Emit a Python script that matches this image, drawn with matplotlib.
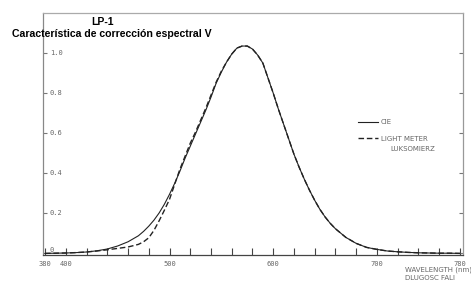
import matplotlib
matplotlib.use("Agg")
import matplotlib.pyplot as plt
import numpy as np

wavelengths = [380, 390, 400, 410, 420, 430, 440, 450, 460, 470, 475, 480, 485,
               490, 495, 500, 505, 510, 515, 520, 525, 530, 535, 540, 545, 550,
               555, 560, 565, 570, 575, 580, 585, 590, 595, 600, 605, 610, 615,
               620, 625, 630, 635, 640, 645, 650, 655, 660, 670, 680, 690, 700,
               710, 720, 730, 740, 750, 760, 770, 780]
cie = [0.0, 0.001, 0.002, 0.004, 0.007, 0.013, 0.022, 0.037, 0.058, 0.088,
       0.11, 0.136, 0.166, 0.202, 0.245, 0.295, 0.35, 0.41, 0.475, 0.535,
       0.595, 0.655, 0.715, 0.78, 0.85, 0.905, 0.955, 0.995, 1.025, 1.035,
       1.035, 1.02, 0.99, 0.95, 0.875, 0.80, 0.72, 0.645, 0.57, 0.495, 0.43,
       0.37, 0.315, 0.265, 0.22, 0.182, 0.15, 0.123, 0.08, 0.05, 0.03, 0.02,
       0.012, 0.008, 0.005, 0.003, 0.002, 0.001, 0.001, 0.0]
light_meter = [0.0, 0.001, 0.002, 0.004, 0.007, 0.012, 0.018, 0.025, 0.032,
               0.045, 0.058, 0.078, 0.115, 0.163, 0.215, 0.27, 0.345, 0.42,
               0.485, 0.55, 0.605, 0.665, 0.725, 0.79, 0.855, 0.91, 0.955,
               0.995, 1.025, 1.035, 1.035, 1.02, 0.99, 0.95, 0.875, 0.80, 0.72,
               0.645, 0.57, 0.495, 0.43, 0.37, 0.315, 0.265, 0.22, 0.182, 0.15,
               0.123, 0.08, 0.05, 0.03, 0.02, 0.012, 0.008, 0.005, 0.003,
               0.002, 0.001, 0.001, 0.0]

x_ticks = list(range(380, 781, 20))
x_labels_shown = {380: "380", 400: "400", 500: "500", 600: "600", 700: "700", 780: "780"}
y_ticks = [0, 0.2, 0.4, 0.6, 0.8, 1.0]
y_labels = ["0", "0.2", "0.4", "0.6", "0.8", "1.0"]

W, H = 471, 283
fig = plt.figure(figsize=(W / 100, H / 100), dpi=100)
ax = fig.add_axes([43 / W, (H - 255) / H, (463 - 43) / W, (255 - 13) / H])

ax.plot(wavelengths, cie, color="#222222", lw=0.8, label="CIE")
ax.plot(wavelengths, light_meter, color="#222222", lw=1.0, ls=(0, (4, 2)),
        label="LIGHT METER")

ax.set_xlim(378, 783)
ax.set_ylim(-0.008, 1.2)

mono = "DejaVu Sans Mono"
ax.set_xticks(x_ticks)
ax.set_xticklabels([x_labels_shown.get(t, "") for t in x_ticks],
                   fontsize=5, color="#666666", family=mono)
ax.set_yticks(y_ticks)
ax.set_yticklabels(y_labels, fontsize=5, color="#666666", family=mono,
                   ha="left")
ax.tick_params(axis="x", direction="in", length=5, width=0.8, color="#444444",
               pad=4)
ax.tick_params(axis="y", direction="in", length=3, width=0.8, color="#777777",
               pad=-5, right=True)
for val, lab in zip(y_ticks, ax.get_yticklabels()):
    lab.set_verticalalignment("bottom" if val == 0 else "center")

for side, c in [("left", "#888888"), ("right", "#999999"), ("top", "#aaaaaa"),
                ("bottom", "#444444")]:
    ax.spines[side].set_color(c)
    ax.spines[side].set_linewidth(0.9)

leg = ax.legend(loc="upper left", bbox_to_anchor=(0.75, 0.56), frameon=False,
                fontsize=5, handlelength=2.9, handletextpad=0.4,
                labelspacing=1.5, borderpad=0, borderaxespad=0)
for t in leg.get_texts():
    t.set_color("#666666")
ax.text(0.826, 0.438, "LUKSOMIERZ", transform=ax.transAxes, fontsize=5,
        color="#666666", ha="left", va="center")

fig.text(405 / W, 1 - 270 / H, "WAVELENGTH (nm)", fontsize=5, color="#666666",
         ha="left", va="center")
fig.text(405 / W, 1 - 278 / H, "DLUGOSC FALI", fontsize=5, color="#666666",
         ha="left", va="center")

fig.text(103 / W, 1 - 22 / H, "LP-1", fontsize=7.5, fontweight="bold",
         family="Liberation Sans", ha="center", va="center")
fig.text(112 / W, 1 - 34 / H, "Característica de corrección espectral V",
         fontsize=7.6, fontweight="bold", family="Liberation Sans",
         ha="center", va="center")

fig.savefig("out.png", dpi=100)
